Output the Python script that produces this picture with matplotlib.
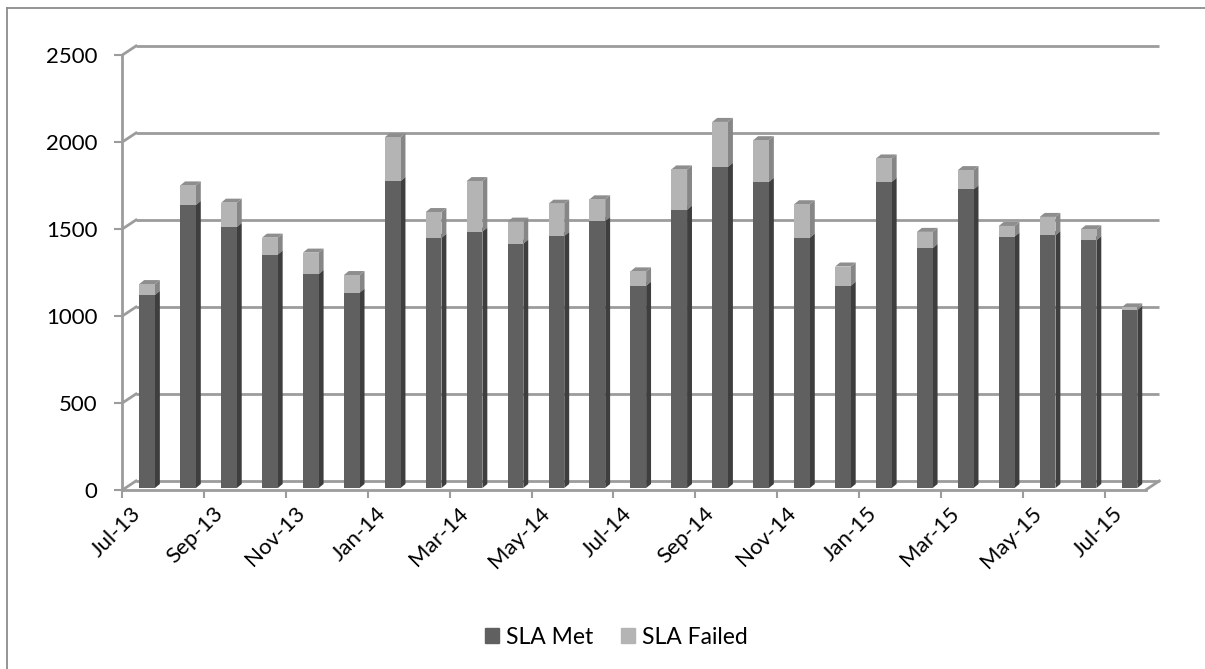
import numpy as np
import matplotlib.pyplot as plt
from matplotlib.patches import Polygon, Patch
from matplotlib.lines import Line2D

plt.rcParams['font.family'] = ['Lato', 'DejaVu Sans']

months = ['Jul-13', 'Aug-13', 'Sep-13', 'Oct-13', 'Nov-13', 'Dec-13',
          'Jan-14', 'Feb-14', 'Mar-14', 'Apr-14', 'May-14', 'Jun-14',
          'Jul-14', 'Aug-14', 'Sep-14', 'Oct-14', 'Nov-14', 'Dec-14',
          'Jan-15', 'Feb-15', 'Mar-15', 'Apr-15', 'May-15', 'Jun-15',
          'Jul-15']
sla_met = [1110, 1627, 1500, 1342, 1230, 1123, 1764, 1438, 1474, 1405,
           1449, 1535, 1163, 1600, 1846, 1760, 1439, 1163, 1760, 1379,
           1716, 1445, 1453, 1424, 1023]
sla_failed = [62, 112, 140, 97, 123, 101, 252, 148, 290, 126,
              185, 124, 82, 231, 258, 239, 192, 110, 134, 93,
              111, 61, 105, 63, 15]
y_ticks = [0, 500, 1000, 1500, 2000, 2500]

GRID = '#9c9c9c'
MET = ('#606060', '#3e3e3e', '#7c7c7c')      # front, side, top
FAILED = ('#b4b4b4', '#868686', '#8e8e8e')

# depth of the floor / back wall in data units
DX, DY = 0.335, 52
# bar geometry
W = 0.384
BX, BY = 0.12, 23
BAR_T = 0.22
BASE = BAR_T * DY

fig = plt.figure(figsize=(12.05, 6.69), dpi=100)
ax = fig.add_axes([122.3 / 1205, 1 - 490 / 669, 1023.3 / 1205, 435 / 669])
ax.set_xlim(0, len(months))
ax.set_ylim(0, 2500)
ax.patch.set_alpha(0)

n = len(months)
met = np.array(sla_met)
failed = np.array(sla_failed)

# back wall gridlines and the left wall diagonals
for v in y_ticks:
    ax.plot([DX, n + DX], [v + DY, v + DY], color=GRID, lw=2,
            clip_on=False, zorder=1, solid_capstyle='butt')
    ax.plot([0, DX], [v, v + DY], color=GRID, lw=2, clip_on=False,
            zorder=1)
# floor right edge
ax.plot([n, n + DX], [0, DY], color=GRID, lw=2, clip_on=False, zorder=1)

x_front = np.arange(n) + 0.34 + BAR_T * DX


def faces(x, y0, h, colors):
    side = [(x + W, y0), (x + W + BX, y0 + BY),
            (x + W + BX, y0 + h + BY), (x + W, y0 + h)]
    top = [(x, y0 + h), (x + BX, y0 + h + BY),
           (x + W + BX, y0 + h + BY), (x + W, y0 + h)]
    ax.add_patch(Polygon(side, closed=True, fc=colors[1], ec='none',
                         zorder=3, clip_on=False))
    ax.add_patch(Polygon(top, closed=True, fc=colors[2], ec='none',
                         zorder=3, clip_on=False))


ax.bar(x_front, met, width=W, bottom=BASE, align='edge', color=MET[0],
       lw=0, zorder=4)
ax.bar(x_front, failed, width=W, bottom=BASE + met, align='edge',
       color=FAILED[0], lw=0, zorder=4)
for i in range(n):
    faces(x_front[i], BASE, met[i], MET)
    if failed[i] > 0:
        faces(x_front[i], BASE + met[i], failed[i], FAILED)

# front axes
for s in ['top', 'right']:
    ax.spines[s].set_visible(False)
for s in ['left', 'bottom']:
    ax.spines[s].set_color(GRID)
    ax.spines[s].set_linewidth(2)
    ax.spines[s].set_zorder(2)

ax.set_yticks(y_ticks)
ax.set_yticklabels([str(v) for v in y_ticks])
ax.tick_params(axis='y', direction='out', length=6, width=1.5, color=GRID,
               labelsize=16, pad=12, labelcolor='black')
ax.set_xticks(np.arange(0, n, 2))
ax.set_xticklabels([])
ax.tick_params(axis='x', direction='out', length=5.5, width=1.5, color=GRID)

for i in range(0, n, 2):
    ax.text(i + 0.2, -0.03, months[i], transform=ax.get_xaxis_transform(),
            rotation=45, ha='right', va='top', rotation_mode='anchor',
            fontsize=16)

handles = [Patch(color=MET[0], label='SLA Met'),
           Patch(color=FAILED[0], label='SLA Failed')]
fig.legend(handles=handles, loc='center', ncol=2, frameon=False,
           bbox_to_anchor=(616 / 1205, 1 - 637 / 669), fontsize=16.5,
           handlelength=0.62, handleheight=0.62, handletextpad=0.3,
           columnspacing=1.2)

# chart area border
fig.add_artist(Line2D([7 / 1205, 7 / 1205], [0, 1 - 8 / 669],
                      color='#8c8c8c', lw=1.3))
fig.add_artist(Line2D([7 / 1205, 1], [1 - 8 / 669, 1 - 8 / 669],
                      color='#8c8c8c', lw=1.3))

fig.savefig('out.png', dpi=100)
